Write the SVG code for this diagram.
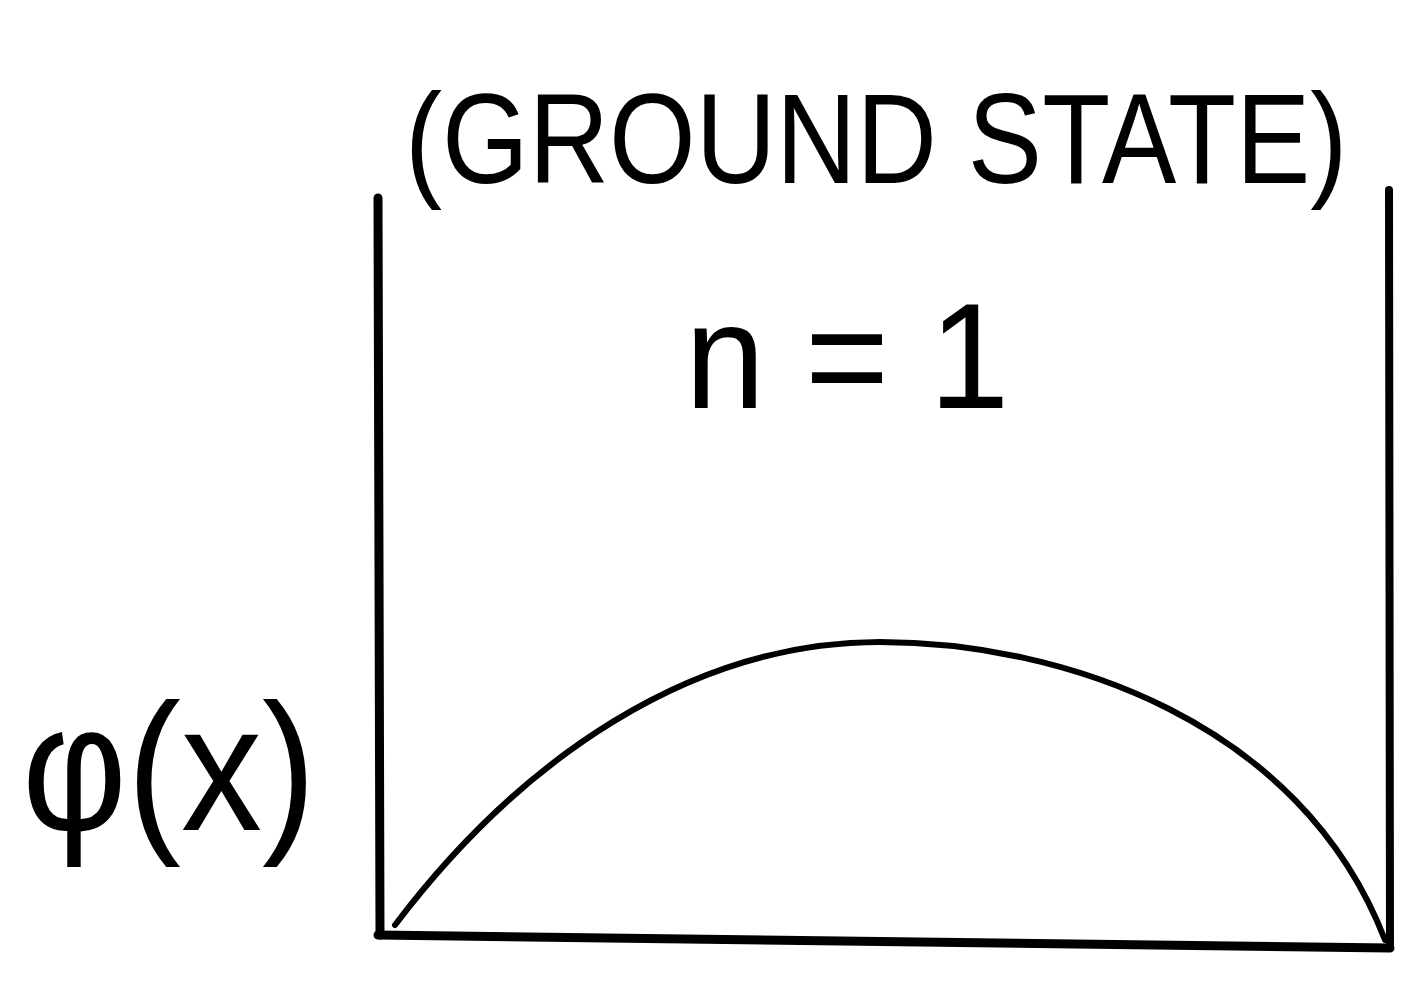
<svg xmlns="http://www.w3.org/2000/svg" width="1403" height="987" viewBox="0 0 1403 987">
<style>
.ln{fill:none;stroke:#000;stroke-linecap:round;stroke-linejoin:round}
.t{font-family:"Liberation Sans",Arial,sans-serif;fill:#000}
</style>
<rect width="1403" height="987" fill="#fff"/>
<g id="connectors">
<path id="left-wall" class="ln" stroke-width="9" d="M378,198 L380,935"/>
<path id="right-wall" class="ln" stroke-width="8" d="M1389,190 L1390,945"/>
<path id="floor" class="ln" stroke-width="9" d="M378,935 L1390,948"/>
<path id="wave" class="ln" stroke-width="6" d="M395,925 C520,760 690,642 880,642 C1060,642 1300,720 1385,940"/>
</g>
<g id="title">
<text class="t" transform="translate(405,183) scale(0.87,1)" x="0" y="0" font-size="128">(GROUND STATE)</text>
</g>
<g id="label-n">
<text class="t" transform="translate(685,408) scale(0.96,1)" x="0" y="0" font-size="150">n = 1</text>
</g>
<g id="label-phi">
<text class="t" transform="translate(22,830) scale(0.9,1)" x="0" y="0" font-size="180">φ(x)</text>
</g>
</svg>
